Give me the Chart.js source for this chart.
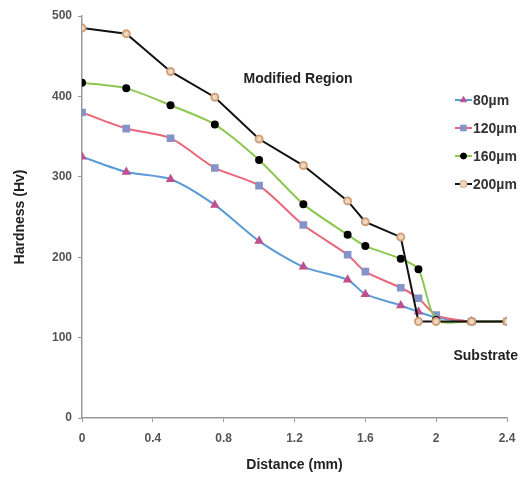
<!DOCTYPE html>
<html>
<head>
<meta charset="utf-8">
<script src="https://cdn.jsdelivr.net/npm/chart.js@4.4.1/dist/chart.umd.min.js"></script>
<style>
  html, body { margin: 0; padding: 0; background: #fff; }
  #wrap { width: 527px; height: 485px; }
</style>
</head>
<body>
<div id="wrap"><canvas id="hardnessChart" width="527" height="485"></canvas></div>
<script>
// Distance from surface (mm) and hardness readings (Hv) per layer thickness
const distances = [0, 0.25, 0.5, 0.75, 1.0, 1.25, 1.5, 1.6, 1.8, 1.9, 2.0, 2.2, 2.4];
const hv80  = [325, 306, 297, 265, 220, 188, 172, 154, 140, 132, 125, 120, 120];
const hv120 = [380, 360, 348, 311, 289, 240, 203, 182, 162, 149, 128, 120, 120];
const hv160 = [417, 410, 389, 365, 321, 266, 228, 214, 198, 185, 122, 120, 120];
const hv200 = [485, 478, 431, 399, 347, 314, 270, 244, 225, 120, 120, 120, 120];
const seriesNames = ["80µm", "120µm", "160µm", "200µm"];
const xTicks = [0, 0.4, 0.8, 1.2, 1.6, 2, 2.4];
const yTicks = [0, 100, 200, 300, 400, 500];

const FONT = "'Liberation Sans', Arial, sans-serif";

function toPoints(values) {
  return distances.map((d, i) => ({ x: d, y: values[i] }));
}

// legend drawn inside the plot, like the original
const sideLegend = {
  id: "sideLegend",
  afterDraw(chart) {
    const ctx = chart.ctx;
    ctx.save();
    chart.data.datasets.forEach((ds, i) => {
      const y = 100 + i * 28;
      ctx.strokeStyle = ds.borderColor;
      ctx.lineWidth = 2;
      ctx.beginPath();
      ctx.moveTo(455, y);
      ctx.lineTo(472, y);
      ctx.stroke();
      ctx.fillStyle = ds.pointBackgroundColor;
      ctx.strokeStyle = ds.pointBorderColor;
      ctx.lineWidth = 1;
      Chart.helpers.drawPoint(ctx, { pointStyle: ds.pointStyle, radius: ds.pointRadius, borderWidth: 1 }, 463.5, y);
      ctx.fillStyle = "#333";
      ctx.font = "bold 14px " + FONT;
      ctx.textBaseline = "middle";
      ctx.textAlign = "left";
      ctx.fillText(ds.label, 473, y + 1);
    });
    ctx.restore();
  }
};

// region labels placed in data coordinates
const regionLabels = {
  id: "regionLabels",
  afterDraw(chart) {
    const { ctx, scales } = chart;
    ctx.save();
    ctx.fillStyle = "#222";
    ctx.font = "bold 14px " + FONT;
    ctx.textAlign = "center";
    ctx.textBaseline = "middle";
    ctx.fillText("Modified Region", scales.x.getPixelForValue(1.22), scales.y.getPixelForValue(421));
    ctx.fillText("Substrate", scales.x.getPixelForValue(2.28), scales.y.getPixelForValue(77));
    ctx.restore();
  }
};

new Chart(document.getElementById("hardnessChart"), {
  type: "line",
  data: {
    datasets: [
      {
        label: seriesNames[0], data: toPoints(hv80), order: 4,
        borderColor: "#5b9bd5", borderWidth: 2, tension: 0.25,
        pointStyle: "triangle", pointRadius: 3.5,
        pointBackgroundColor: "#c0508c", pointBorderColor: "#c0508c"
      },
      {
        label: seriesNames[1], data: toPoints(hv120), order: 3,
        borderColor: "#e8677a", borderWidth: 2, tension: 0.25,
        pointStyle: "rect", pointRadius: 4,
        pointBackgroundColor: "#8494c8", pointBorderColor: "#8494c8"
      },
      {
        label: seriesNames[2], data: toPoints(hv160), order: 2,
        borderColor: "#8cc850", borderWidth: 2, tension: 0.25,
        pointStyle: "circle", pointRadius: 3,
        pointBackgroundColor: "#000", pointBorderColor: "#000"
      },
      {
        label: seriesNames[3], data: toPoints(hv200), order: 1,
        borderColor: "#111", borderWidth: 2, tension: 0,
        pointStyle: "circle", pointRadius: 3.5,
        pointBackgroundColor: "#f0d8c0", pointBorderColor: "#d0a07a"
      }
    ]
  },
  options: {
    responsive: false,
    animation: false,
    layout: { padding: { top: 16, right: 20, left: 0, bottom: 0 } },
    plugins: {
      legend: { display: false },
      tooltip: { enabled: false }
    },
    scales: {
      x: {
        type: "linear",
        min: 0, max: 2.4,
        afterBuildTicks: s => { s.ticks = xTicks.map(v => ({ value: v })); },
        afterFit: s => { s.height = 67; },
        grid: { display: true, drawOnChartArea: false, tickLength: 4, color: "#999" },
        border: { color: "#999", width: 1.5 },
        ticks: {
          color: "#555", font: { family: FONT, size: 12, weight: "bold" }, padding: 9,
          callback: v => String(Number(v.toFixed(1)))
        },
        title: {
          display: true, text: "Distance (mm)", color: "#222",
          font: { family: FONT, size: 14, weight: "bold" }, padding: { top: 0, bottom: 11 }
        }
      },
      y: {
        min: 0, max: 500,
        afterBuildTicks: s => { s.ticks = yTicks.map(v => ({ value: v })); },
        afterFit: s => { s.width = 82; },
        grid: { display: true, drawOnChartArea: false, tickLength: 4, color: "#999" },
        border: { color: "#999", width: 1.5 },
        ticks: { color: "#555", font: { family: FONT, size: 12, weight: "bold" }, padding: 6 },
        title: {
          display: true, text: "Hardness (Hv)", color: "#222",
          font: { family: FONT, size: 14, weight: "bold" }, padding: { top: 12, bottom: 0 }
        }
      }
    }
  },
  plugins: [sideLegend, regionLabels]
});
</script>
</body>
</html>
